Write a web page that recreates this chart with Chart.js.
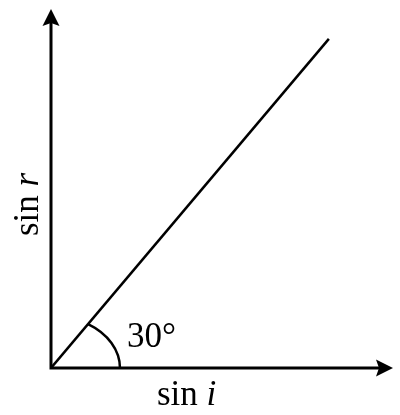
<!DOCTYPE html>
<html>
<head>
<meta charset="utf-8">
<script src="https://cdn.jsdelivr.net/npm/chart.js@4/dist/chart.umd.min.js"></script>
<style>
html,body{margin:0;padding:0;background:#fff;}
#wrap{width:400px;height:415px;position:relative;}
</style>
</head>
<body>
<div id="wrap"><canvas id="c" width="400" height="415"></canvas></div>
<script>
// Data
const lineX = [0, 0.975];
const lineY = [0, 1.10];
const axisMax = { x: 1.2, y: 1.2 };
const angleLabel = "30°";
const xLabel = ["sin ", "i"];
const yLabel = ["sin ", "r"];
const arcRadius = { x: 0.242, y: 0.174 };

const FONT = "'Liberation Serif', 'DejaVu Serif', serif";

const decor = {
  id: 'decor',
  afterDatasetsDraw(chart) {
    const ctx = chart.ctx;
    const xs = chart.scales.x, ys = chart.scales.y;
    const ox = xs.getPixelForValue(0), oy = ys.getPixelForValue(0);
    const xEnd = xs.getPixelForValue(axisMax.x), yEnd = ys.getPixelForValue(axisMax.y);
    ctx.save();
    ctx.strokeStyle = '#000';
    ctx.fillStyle = '#000';
    ctx.lineWidth = 3;
    ctx.lineCap = 'butt';
    // axes
    ctx.beginPath();
    ctx.moveTo(ox, oy + 1.5); ctx.lineTo(ox, yEnd + 10);
    ctx.moveTo(ox - 1.5, oy); ctx.lineTo(xEnd - 10, oy);
    ctx.stroke();
    // arrow heads
    ctx.beginPath();
    ctx.moveTo(ox, yEnd);
    ctx.lineTo(ox + 8.5, yEnd + 17);
    ctx.lineTo(ox, yEnd + 14);
    ctx.lineTo(ox - 8.5, yEnd + 17);
    ctx.closePath();
    ctx.fill();
    ctx.beginPath();
    ctx.moveTo(xEnd, oy);
    ctx.lineTo(xEnd - 17, oy - 8.5);
    ctx.lineTo(xEnd - 14, oy);
    ctx.lineTo(xEnd - 17, oy + 8.5);
    ctx.closePath();
    ctx.fill();
    // angle arc (ellipse from x-axis up to the line)
    const rx = xs.getPixelForValue(arcRadius.x) - ox;
    const ry = oy - ys.getPixelForValue(arcRadius.y);
    const lx = xs.getPixelForValue(lineX[1]) - ox;
    const ly = oy - ys.getPixelForValue(lineY[1]);
    const th = Math.atan2(ly * rx, lx * ry);
    ctx.lineWidth = 2.5;
    ctx.beginPath();
    ctx.ellipse(ox, oy, rx, ry, 0, -th, 0);
    ctx.stroke();
    // texts
    ctx.textBaseline = 'alphabetic';
    ctx.textAlign = 'left';
    ctx.font = "35px " + FONT;
    ctx.fillText(angleLabel, 127, 347);
    // x label
    let x0 = 157;
    ctx.font = "35px " + FONT;
    ctx.fillText(xLabel[0], x0, 405);
    let w = ctx.measureText(xLabel[0]).width;
    ctx.font = "italic 35px " + FONT;
    ctx.fillText(xLabel[1], x0 + w, 405);
    // y label rotated
    ctx.translate(38, 236);
    ctx.rotate(-Math.PI / 2);
    ctx.font = "35px " + FONT;
    ctx.fillText(yLabel[0], 0, 0);
    w = ctx.measureText(yLabel[0]).width;
    ctx.font = "italic 35px " + FONT;
    ctx.fillText(yLabel[1], w, 0);
    ctx.restore();
  }
};

new Chart(document.getElementById('c'), {
  type: 'scatter',
  data: {
    datasets: [{
      data: lineX.map((v, i) => ({ x: v, y: lineY[i] })),
      showLine: true,
      borderColor: '#000',
      borderWidth: 2.5,
      pointRadius: 0,
      fill: false
    }]
  },
  options: {
    responsive: false,
    animation: false,
    devicePixelRatio: 1,
    layout: { padding: { left: 51, right: 7, top: 9, bottom: 47 } },
    plugins: { legend: { display: false }, tooltip: { enabled: false } },
    scales: {
      x: { type: 'linear', min: 0, max: axisMax.x, display: false },
      y: { type: 'linear', min: 0, max: axisMax.y, display: false }
    }
  },
  plugins: [decor]
});
</script>
</body>
</html>
